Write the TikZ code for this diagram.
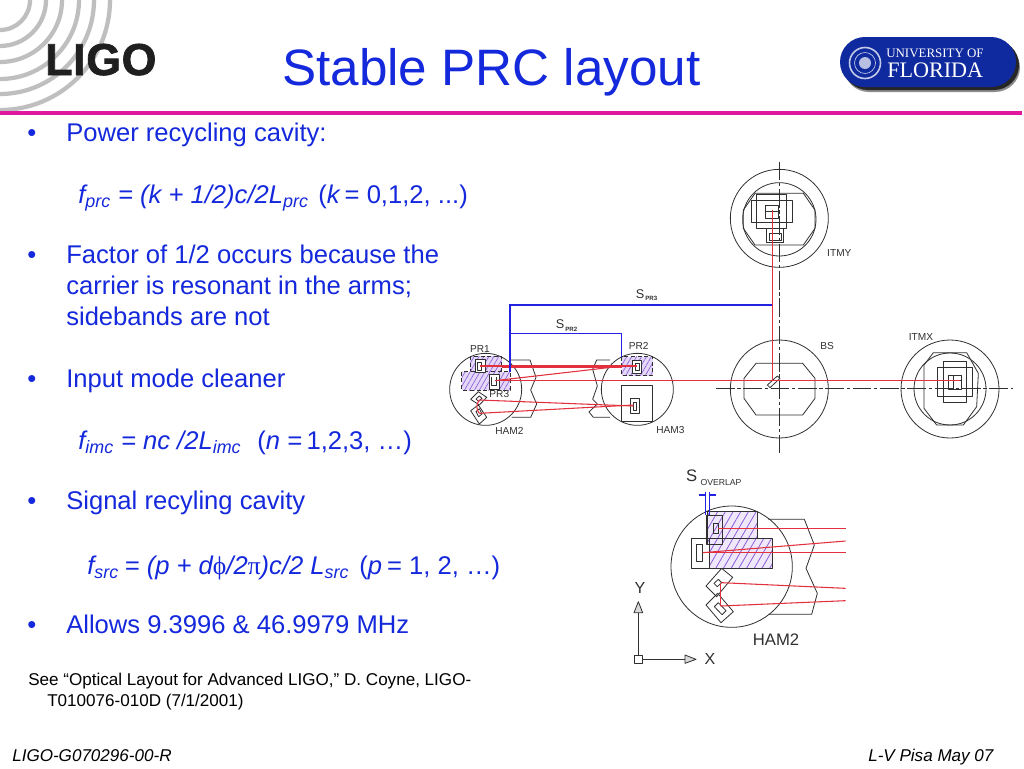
\documentclass[tikz,border=0pt]{standalone}
\usepackage{fontspec}
\setmainfont{Liberation Sans}
\newfontfamily\ufserif{Liberation Serif}
\newfontfamily\ligofont[UprightFont=* Bold,FakeBold=1.6,LetterSpace=1.5]{Liberation Sans}
\usetikzlibrary{patterns.meta}
\definecolor{slideblue}{HTML}{1428DC}
\definecolor{inkdark}{HTML}{303030}
\definecolor{beamred}{HTML}{E2303C}
\definecolor{dimblue}{HTML}{2222E0}
\definecolor{hatchpurple}{HTML}{8E5CD6}
\definecolor{hatchfill}{HTML}{E4D8F8}
\definecolor{bar}{HTML}{E0189E}
\definecolor{ufblue}{HTML}{0F2A9E}
\tikzset{
  txt/.style={inner sep=0pt,anchor=base west},
  body/.style={txt,text=slideblue,font=\fontsize{19.2}{23}\selectfont},
  note/.style={txt,text=black,font=\fontsize{12.8}{15}\selectfont},
  foot/.style={txt,text=black,font=\fontsize{12.8}{15}\selectfont\itshape},
  lab/.style={inner sep=0pt,text=inkdark,font=\fontsize{7.6}{9}\selectfont},
  labsub/.style={inner sep=0pt,text=inkdark,font=\fontsize{4.6}{6}\selectfont\bfseries},
  cad/.style={draw=inkdark,line width=0.6pt,line join=round},
  beam/.style={draw=beamred,line width=0.8pt},
  dimline/.style={draw=dimblue,line width=1pt},
  centre/.style={draw=inkdark,line width=0.6pt,dash pattern=on 14pt off 2pt on 2.5pt off 2pt},
  hatched/.style={preaction={fill=hatchfill},pattern={Lines[angle=60,distance=3.2pt,line width=0.5pt]},pattern color=hatchpurple},
  hatchedbig/.style={preaction={fill=hatchfill!60},pattern={Lines[angle=60,distance=5pt,line width=0.6pt]},pattern color=hatchpurple},
}
\begin{document}
\begin{tikzpicture}[x=0.75pt,y=-0.75pt]
\useasboundingbox (0,0) rectangle (1024,768);
\fill[white] (0,0) rectangle (1024,768);
% LIGO logo
\begin{scope}
\clip (0,0) rectangle (200,112);
\foreach \r in {30,46,62,79,94,110}
  \draw[color=black!25,line width=3.2pt] (0,0) circle[radius=\r];
\end{scope}
\node[txt,font=\fontsize{33.5}{36}\ligofont,text=black!88] (ligo) at (45,75) {LIGO};
% title and rule
\node[txt,text=slideblue,font=\fontsize{38.4}{44}\selectfont] (title) at (282,85) {Stable PRC layout};
\fill[bar] (0,111) rectangle (1022,115);
% UF logo
\fill[black!45,rounded corners=18.7pt] (844,43) rectangle (1020,92);
\fill[black!85,rounded corners=18.7pt] (843,40) rectangle (1019,90);
\fill[ufblue,rounded corners=18.7pt] (840,37) rectangle (1016,87);
\draw[white!75!ufblue,line width=1.2pt] (865,63) circle[radius=15.5];
\draw[white!75!ufblue,line width=0.5pt] (865,63) circle[radius=10.5];
\fill[white!70!ufblue] (865,63) circle[radius=6];
\node[txt,text=white,font=\fontsize{9.7}{11}\ufserif] (uf1) at (886,57.5) {UNIVERSITY OF};
\node[txt,text=white,font=\fontsize{16.6}{18}\ufserif] (uf2) at (887,77) {FLORIDA};
% left text
\foreach \n/\yy in {a/141,b/263,c/387,d/509,e/633}
  \node[body] (bul\n) at (27,\yy) {•};
\node[body] (t1) at (66,141) {Power recycling cavity:};
\node[body] (t2) at (78,203) {\textit{f\textsubscript{prc} = (k + 1/2)c/2L\textsubscript{prc}}};
\node[body] (t2b) at (318,203) {(\textit{k}\kern-2.3pt{} = 0,1,2, ...)};
\node[body] (t3) at (66,263) {Factor of 1/2 occurs because the};
\node[body] (t4) at (66,294) {carrier is resonant in the arms;};
\node[body] (t5) at (66,325) {sidebands are not};
\node[body] (t6) at (66,387) {Input mode cleaner};
\node[body] (t7) at (78,449) {\textit{f\textsubscript{imc} = nc /2L\textsubscript{imc}}};
\node[body] (t7b) at (257,449) {(\textit{n =}\kern-2pt{} 1,2,3, …)};
\node[body] (t8) at (66,509) {Signal recyling cavity};
\node[body] (t9) at (87,574) {\textit{f\textsubscript{src}\kern-1pt{} = (p + d{\ufserif\upshape ϕ}/2{\ufserif\upshape π})c/2 L\textsubscript{src}}};
\node[body] (t9b) at (359,574) {(\textit{p}\kern-1.5pt{} = 1, 2, …)};
\node[body] (t10) at (66,633) {Allows 9.3996 \& 46.9979 MHz};
\node[note] (t11) at (28,685) {See “Optical Layout for Advanced LIGO,” D. Coyne, LIGO-};
\node[note] (t12) at (47,706) {T010076-010D (7/1/2001)};
\node[foot] (f1) at (12,761) {LIGO-G070296-00-R};
\node[foot] (f2) at (868,761) {L-V Pisa May 07};
% HAM2 / HAM3 view
\begin{scope}[shift={(440,280)},x=0.25pt,y=-0.25pt]
  \draw[cad,hatched,densely dashed] (90,228) rectangle (185,285);
  \draw[cad,hatched,densely dashed] (65,275) rectangle (210,330);
  \draw[cad,hatched,densely dashed] (545,230) rectangle (638,287);
  \draw[cad] (137,328) circle[radius=108];
  \draw[cad] (592,328) circle[radius=108];
  \draw[cad] (210,240) -- (270,240) -- (288,292) -- (272,330) -- (290,372) -- (272,412) -- (215,412);
  \draw[cad] (510,240) -- (470,240) -- (458,268) -- (472,318) -- (458,358) -- (472,372) -- (447,396) -- (460,412) -- (510,412);
  \draw[cad,fill=white] (107,237) rectangle (135,278);
  \draw[cad] (113,248) rectangle (125,270);
  \draw[cad,fill=white] (147,283) rectangle (178,328);
  \draw[cad] (155,290) -- (155,315) -- (168,315) -- (168,290);
  \draw[cad,fill=white] (578,240) rectangle (605,280);
  \draw[cad] (587,250) rectangle (597,270);
  \draw[cad] (545,317) rectangle (638,425);
  \draw[cad] (570,355) rectangle (598,400);
  \draw[cad] (579,368) rectangle (589,390);
  \draw[cad] (92,358) -- (115,335) -- (140,352) -- (118,375) -- cycle;
  \draw[cad] (92,392) -- (115,375) -- (140,412) -- (118,432) -- cycle;
  \draw[cad] (108,357) -- (118,348) -- (126,355) -- (116,364) -- cycle;
  \draw[cad] (108,395) -- (118,386) -- (126,402) -- (116,410) -- cycle;
  \draw[beam] (120,258) -- (590,258);
  \draw[beam] (185,262) -- (545,262);
  \draw[beam] (165,302) -- (548,258);
  \draw[beam] (165,302) -- (780,302);
  \draw[beam] (118,360) -- (580,378);
  \draw[beam] (118,400) -- (580,375);
  \draw[beam] (118,360) .. controls (108,372) and (108,390) .. (118,400);
  \draw[dimline] (210,275) -- (210,75) -- (996,75);
  \draw[dimline] (210,161) -- (545,161) -- (545,230);
  \node[lab,font=\fontsize{9.5}{10}\selectfont] (spr3) at (600,42) {S};
  \node[labsub] (spr3s) at (634,56) {PR3};
  \node[lab,font=\fontsize{9.5}{10}\selectfont] (spr2) at (360,133) {S};
  \node[labsub] (spr2s) at (394,148) {PR2};
  \node[lab] (pr1) at (120,208) {PR1};
  \node[lab] (pr2) at (596,197) {PR2};
  \node[lab] (pr3) at (178,342) {PR3};
  \node[lab] (ham2a) at (208,453) {HAM2};
  \node[lab] (ham3a) at (691,449) {HAM3};
\end{scope}
% ITM / BS view
\begin{scope}[shift={(700,160)},x=0.25pt,y=-0.25pt]
  \draw[centre] (238,5) -- (238,880);
  \draw[centre] (48,686) -- (940,686);
  % ITMY
  \draw[cad] (238,175) circle[radius=147];
  \draw[cad] (238,178) circle[radius=110];
  \draw[cad] (165,100) -- (310,100) -- (345,150) -- (345,205) -- (310,255) -- (165,255) -- (130,205) -- (130,150) -- cycle;
  \draw[cad] (170,102) rectangle (260,205);
  \draw[cad] (155,120) rectangle (278,188);
  \draw[cad] (197,135) rectangle (235,175);
  \draw[cad] (197,155) -- (235,155);
  \draw[cad] (200,205) rectangle (250,247);
  \draw[cad] (207,220) rectangle (243,240);
  % BS
  \draw[cad] (238,687) circle[radius=147];
  \draw[cad] (168,610) -- (308,610) -- (345,655) -- (345,715) -- (308,765) -- (168,765) -- (132,715) -- (132,655) -- cycle;
  \draw[cad] (202,675) -- (232,648) -- (240,655) -- (210,683) -- cycle;
  % ITMX
  \draw[cad] (750,687) circle[radius=147];
  \draw[cad] (750,687) circle[radius=108];
  \draw[cad] (672,615) -- (700,578) -- (800,578) -- (835,640) -- (830,740) -- (790,795) -- (710,795) -- (672,745) -- cycle;
  \draw[cad] (730,603) rectangle (800,727);
  \draw[cad] (712,623) rectangle (818,710);
  \draw[cad] (745,645) rectangle (785,687);
  \draw[cad] (760,645) -- (760,687) (745,662) -- (785,662);
  \draw[beam] (217,150) -- (217,662);
  \draw[beam] (0,662) -- (780,662);
  \node[lab] (itmy) at (418,278) {ITMY};
  \node[lab] (bs) at (381,558) {BS};
  \node[lab] (itmx) at (663,532) {ITMX};
\end{scope}
% Enlarged HAM2 view
\begin{scope}[shift={(620,460)},x=0.25pt,y=-0.25pt]
  \draw[cad,hatchedbig] (262,155) rectangle (412,252);
  \draw[cad,hatchedbig] (268,236) rectangle (458,325);
  \draw[cad] (335,320) circle[radius=182];
  \draw[cad] (445,178) -- (553,178) -- (583,255) -- (558,325) -- (592,400) -- (575,463) -- (445,463);
  \draw[cad] (258,165) rectangle (308,252);
  \draw[cad] (280,190) rectangle (295,220);
  \draw[cad] (213,236) rectangle (268,325);
  \draw[cad] (230,253) rectangle (248,305);
  \draw[cad] (258,378) -- (305,325) -- (338,352) -- (290,410) -- cycle;
  \draw[cad] (258,435) -- (293,400) -- (340,455) -- (303,488) -- cycle;
  \draw[cad] (282,370) -- (295,358) -- (305,368) -- (292,380) -- cycle;
  \draw[cad] (283,440) -- (295,428) -- (318,452) -- (306,464) -- cycle;
  \draw[beam] (295,205) -- (677,205);
  \draw[beam] (248,278) -- (677,278);
  \draw[beam] (248,278) -- (677,243);
  \draw[beam] (305,368) -- (677,385);
  \draw[beam] (302,438) -- (677,422);
  \draw[beam] (302,368) -- (302,438);
  \draw[dimline] (257,95) -- (257,165) (268,95) -- (268,165);
  \draw[dimline] (238,105) -- (257,105) (268,105) -- (287,105);
  \draw[cad] (43,585) rectangle (68,610);
  \draw[cad] (55,585) -- (55,458);
  \draw[cad,fill=black!15] (42,458) -- (68,458) -- (55,425) -- cycle;
  \draw[cad] (68,598) -- (195,598);
  \draw[cad,fill=black!15] (195,585) -- (195,610) -- (228,598) -- cycle;
  \node[lab,font=\fontsize{12.5}{13}\selectfont] (soverlap) at (215,47) {S};
  \node[lab,font=\fontsize{6.5}{7}\selectfont] (soverlaps) at (303,68) {OVERLAP};
  \node[lab,font=\fontsize{12}{13}\selectfont] (yaxis) at (60,383) {Y};
  \node[lab,font=\fontsize{12}{13}\selectfont] (xaxis) at (270,598) {X};
  \node[lab,font=\fontsize{12.5}{13}\selectfont] (ham2b) at (468,538) {HAM2};
\end{scope}
\end{tikzpicture}
\end{document}
